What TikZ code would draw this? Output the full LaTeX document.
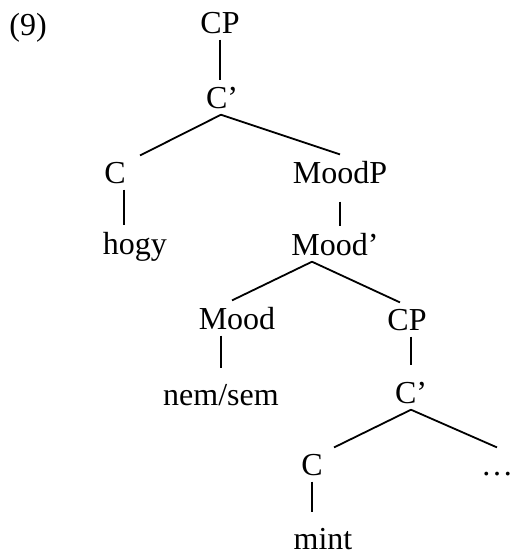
\documentclass[tikz,border=0pt]{standalone}
\usepackage{fontspec}
\setmainfont{Liberation Serif}
\usepackage{tikz}

\begin{document}
\begin{tikzpicture}[x = 0.5pt, y = -0.5pt]
        \tikzset{word/.style = {anchor=base,inner xsep=0pt,inner ysep=3pt,font=\fontsize{16pt}{19pt}\selectfont}}
        \useasboundingbox (0,0) rectangle (510,553);
        % labels
        \node[word,anchor=base west] (ex) at (9,35) {(9)};
        \node[word] (cp1)     at (220,33)  {CP};
        \node[word] (cbar1)   at (222,108) {C'};
        \node[word] (c1)      at (115,183) {C};
        \node[word] (moodp)   at (340,183) {MoodP};
        \node[word] (hogy)    at (135,254) {hogy};
        \node[word] (moodbar) at (335,255) {Mood'};
        \node[word] (mood)    at (237,329) {Mood};
        \node[word] (cp2)     at (407,330) {CP};
        \node[word] (nemsem)  at (221,405) {nem/sem};
        \node[word] (cbar2)   at (411,403) {C'};
        \node[word] (c2)      at (312,475) {C};
        \node[word] (dots)    at (497,475) {…};
        \node[word,inner ysep=1pt] (mint) at (323,549) {mint};
        % branches
        \draw[line width=0.9pt] (cp1.south) -- (cp1.south |- cbar1.north);
        \draw[line width=0.9pt] ([xshift=-0.5pt]cbar1.south) -- ([xshift=7pt]c1.north east);
        \draw[line width=0.9pt] ([xshift=-0.5pt]cbar1.south) -- (moodp.north);
        \draw[line width=0.9pt] ([xshift=4.5pt]c1.south) -- ([xshift=-5.5pt]hogy.north);
        \draw[line width=0.9pt,shorten <=6pt] (moodp.south) -- (moodp.south |- moodbar.north);
        \draw[line width=0.9pt] ([xshift=-11.5pt]moodbar.south) -- ([xshift=-2.5pt]mood.north);
        \draw[line width=0.9pt] ([xshift=-11.5pt]moodbar.south) -- ([xshift=-3.5pt]cp2.north);
        \draw[line width=0.9pt,shorten >=5pt] (nemsem.north |- mood.south) -- (nemsem.north);
        \draw[line width=0.9pt,shorten >=5pt] (cbar2.north |- cp2.south) -- (cbar2.north);
        \draw[line width=0.9pt] (cbar2.south) -- ([xshift=5.5pt]c2.north east);
        \draw[line width=0.9pt] (cbar2.south) -- (dots.north |- c2.north);
        \draw[line width=0.9pt,shorten >=6.5pt] (c2.south) -- (c2.south |- mint.north);
\end{tikzpicture}
\end{document}
